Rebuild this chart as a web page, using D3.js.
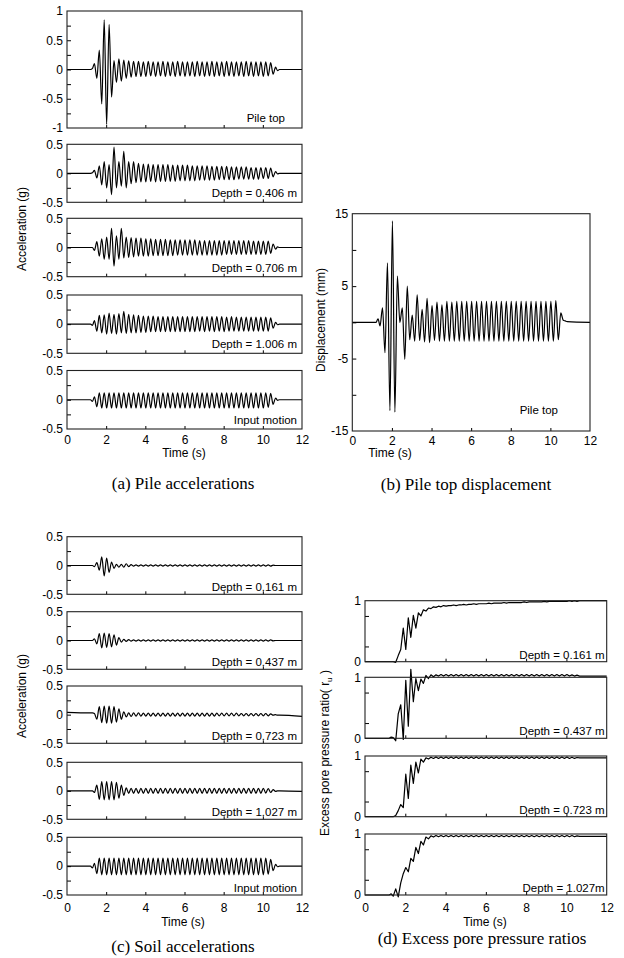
<!DOCTYPE html>
<html>
<head>
<meta charset="utf-8">
<script src="https://cdn.jsdelivr.net/npm/d3@7.9.0/dist/d3.min.js"></script>
<style>
  body { margin: 0; background: #fff; }
  svg text { font-family: "Liberation Sans", Arial, sans-serif; font-size: 12px; fill: #000; }
  svg text.inner { font-size: 11.5px; }
  svg text.caption { font-family: "Liberation Serif", "Times New Roman", serif; font-size: 17px; }
</style>
</head>
<body>
<svg id="fig" width="624" height="958"></svg>
<script>
// time of each knot (s): quiet start, extrema of the ~4 Hz shaking, quiet end
const timeKnots = [0, 1.2, 1.3,
  1.4, 1.525, 1.65, 1.775, 1.9, 2.025, 2.15, 2.275, 2.4, 2.525,
  2.65, 2.775, 2.9, 3.025, 3.15, 3.275, 3.4, 3.525, 3.65, 3.775,
  3.9, 4.025, 4.15, 4.275, 4.4, 4.525, 4.65, 4.775, 4.9, 5.025,
  5.15, 5.275, 5.4, 5.525, 5.65, 5.775, 5.9, 6.025, 6.15, 6.275,
  6.4, 6.525, 6.65, 6.775, 6.9, 7.025, 7.15, 7.275, 7.4, 7.525,
  7.65, 7.775, 7.9, 8.025, 8.15, 8.275, 8.4, 8.525, 8.65, 8.775,
  8.9, 9.025, 9.15, 9.275, 9.4, 9.525, 9.65, 9.775, 9.9, 10.025,
  10.15, 10.275, 10.4, 10.525, 10.65,
  10.75, 10.85, 12];

const timeTicks = [0, 2, 4, 6, 8, 10, 12];

// (a) pile accelerations (g)
const pileTopAcc = [0, 0, 0.02,
  0.1, -0.15, 0.33, -0.59, 0.85, -0.94, 0.77, -0.47, 0.15, -0.22,
  0.18, -0.2, 0.16, -0.15, 0.15, -0.13, 0.14, -0.12, 0.14, -0.12,
  0.13, -0.12, 0.14, -0.11, 0.13, -0.12, 0.13, -0.11, 0.14, -0.12,
  0.13, -0.11, 0.13, -0.12, 0.14, -0.11, 0.13, -0.12, 0.13, -0.11,
  0.13, -0.12, 0.14, -0.11, 0.13, -0.12, 0.13, -0.11, 0.14, -0.12,
  0.13, -0.11, 0.13, -0.12, 0.14, -0.11, 0.13, -0.12, 0.13, -0.11,
  0.13, -0.12, 0.14, -0.11, 0.13, -0.12, 0.13, -0.11, 0.13, -0.12,
  0.13, -0.11, 0.12, -0.08, 0.04,
  -0.02, 0, 0];
const pile0406Acc = [0, 0, 0.01,
  0.05, -0.08, 0.13, -0.2, 0.2, -0.25, 0.15, -0.37, 0.45, -0.25,
  0.2, -0.22, 0.38, -0.25, 0.2, -0.18, 0.2, -0.16, 0.17, -0.15,
  0.16, -0.15, 0.16, -0.14, 0.15, -0.15, 0.15, -0.14, 0.15, -0.14,
  0.15, -0.14, 0.14, -0.14, 0.14, -0.13, 0.14, -0.13, 0.14, -0.13,
  0.13, -0.13, 0.13, -0.12, 0.13, -0.12, 0.13, -0.12, 0.12, -0.12,
  0.12, -0.11, 0.12, -0.11, 0.12, -0.11, 0.11, -0.11, 0.11, -0.1,
  0.11, -0.1, 0.11, -0.1, 0.1, -0.1, 0.1, -0.1, 0.1, -0.09,
  0.1, -0.09, 0.09, -0.06, 0.03,
  -0.01, 0, 0];
const pile0706Acc = [0, 0, 0,
  -0.05, 0.1, -0.15, 0.15, -0.2, 0.18, -0.2, 0.33, -0.32, 0.2,
  -0.2, 0.33, -0.18, 0.18, -0.17, 0.17, -0.16, 0.16, -0.15, 0.16,
  -0.15, 0.15, -0.15, 0.15, -0.14, 0.14, -0.14, 0.14, -0.14, 0.14,
  -0.14, 0.13, -0.14, 0.13, -0.13, 0.13, -0.13, 0.13, -0.13, 0.13,
  -0.13, 0.13, -0.13, 0.12, -0.13, 0.12, -0.13, 0.12, -0.13, 0.12,
  -0.13, 0.12, -0.13, 0.12, -0.12, 0.12, -0.12, 0.12, -0.12, 0.12,
  -0.12, 0.12, -0.12, 0.12, -0.12, 0.11, -0.12, 0.11, -0.12, 0.11,
  -0.12, 0.11, -0.1, 0.06, -0.03,
  0.01, 0, 0];
const pile1006Acc = [0, 0, -0.02,
  0.06, -0.12, 0.15, -0.15, 0.16, -0.17, 0.19, -0.16, 0.17, -0.17,
  0.18, -0.15, 0.22, -0.16, 0.17, -0.15, 0.16, -0.15, 0.15, -0.14,
  0.14, -0.14, 0.14, -0.13, 0.14, -0.13, 0.13, -0.13, 0.13, -0.13,
  0.13, -0.13, 0.13, -0.13, 0.13, -0.13, 0.13, -0.13, 0.13, -0.13,
  0.13, -0.13, 0.13, -0.12, 0.13, -0.13, 0.13, -0.12, 0.13, -0.13,
  0.13, -0.12, 0.13, -0.13, 0.12, -0.12, 0.13, -0.12, 0.12, -0.12,
  0.12, -0.12, 0.12, -0.12, 0.12, -0.12, 0.12, -0.12, 0.12, -0.12,
  0.12, -0.12, 0.11, -0.07, 0.03,
  -0.01, 0, 0];
const pileInputAcc = [0, 0, -0.03,
  0.05, -0.12, 0.12, -0.14, 0.12, -0.14, 0.12, -0.14, 0.12, -0.14,
  0.12, -0.14, 0.12, -0.14, 0.12, -0.14, 0.12, -0.14, 0.12, -0.14,
  0.12, -0.14, 0.12, -0.14, 0.12, -0.14, 0.12, -0.14, 0.12, -0.14,
  0.12, -0.14, 0.12, -0.14, 0.12, -0.14, 0.12, -0.14, 0.12, -0.14,
  0.12, -0.14, 0.12, -0.14, 0.12, -0.14, 0.12, -0.14, 0.12, -0.14,
  0.12, -0.14, 0.12, -0.14, 0.12, -0.14, 0.12, -0.14, 0.12, -0.14,
  0.12, -0.14, 0.12, -0.14, 0.12, -0.14, 0.12, -0.14, 0.12, -0.14,
  0.12, -0.13, 0.11, -0.08, 0.03,
  -0.01, 0, 0];

// (b) pile top displacement (mm)
const pileTopDisp = [0, 0, 0.5,
  -0.5, 2, -4.2, 8.2, -12.2, 14, -12.4, 6.4, 0, 2,
  -5.1, 5, -2.4, 1.0, -2.6, 3.8, -2.5, 1.8, -2.7, 3.3,
  -2.8, 2.3, -2.5, 2.8, -2.6, 2.4, -2.6, 2.9, -2.6, 2.8,
  -2.6, 2.9, -2.6, 2.9, -2.6, 2.9, -2.6, 2.9, -2.6, 2.9,
  -2.6, 2.9, -2.6, 2.9, -2.6, 2.9, -2.6, 2.9, -2.6, 2.9,
  -2.6, 2.9, -2.6, 2.9, -2.6, 2.9, -2.6, 2.9, -2.6, 2.9,
  -2.6, 2.9, -2.6, 2.9, -2.6, 2.9, -2.6, 2.9, -2.6, 2.9,
  -2.6, 3.0, -2.4, 1.3, 0.3,
  0.2, 0.1, 0];

// (c) soil accelerations (g)
const soil0161Acc = [0, 0, 0,
  -0.02, 0.05, -0.08, 0.15, -0.18, 0.13, -0.12, 0.06, -0.05, 0.02,
  -0.03, 0.02, -0.03, 0.03, -0.02, 0.015, -0.01, 0.01, -0.01, 0.01,
  -0.01, 0.01, -0.01, 0.01, -0.01, 0.01, -0.01, 0.01, -0.01, 0.01,
  -0.01, 0.01, -0.01, 0.01, -0.01, 0.01, -0.01, 0.01, -0.01, 0.01,
  -0.01, 0.01, -0.01, 0.01, -0.01, 0.01, -0.01, 0.01, -0.01, 0.01,
  -0.01, 0.01, -0.01, 0.01, -0.01, 0.01, -0.01, 0.01, -0.01, 0.01,
  -0.01, 0.01, -0.01, 0.01, -0.01, 0.01, -0.01, 0.01, -0.01, 0.01,
  -0.01, 0.01, -0.01, 0.005, 0,
  0, 0, 0];
const soil0437Acc = [0, 0, 0,
  0.03, -0.06, 0.12, -0.13, 0.13, -0.12, 0.12, -0.11, 0.1, -0.08,
  0.05, -0.03, 0.02, -0.015, 0.015, -0.01, 0.01, -0.01, 0.01, -0.01,
  0.01, -0.01, 0.01, -0.01, 0.01, -0.01, 0.01, -0.01, 0.01, -0.01,
  0.01, -0.01, 0.01, -0.01, 0.01, -0.01, 0.01, -0.01, 0.01, -0.01,
  0.01, -0.01, 0.01, -0.01, 0.01, -0.01, 0.01, -0.01, 0.01, -0.01,
  0.01, -0.01, 0.01, -0.01, 0.01, -0.01, 0.01, -0.01, 0.01, -0.01,
  0.01, -0.01, 0.01, -0.01, 0.01, -0.01, 0.01, -0.01, 0.01, -0.01,
  0.01, -0.01, 0.01, -0.005, 0,
  0, 0, 0];
const soil0723Acc = [0.04, 0.03, 0.03,
  0.02, -0.08, 0.14, -0.14, 0.15, -0.15, 0.15, -0.15, 0.14, -0.13,
  0.1, -0.08, 0.05, -0.04, 0.03, -0.03, 0.03, -0.025, 0.03, -0.025,
  0.025, -0.025, 0.025, -0.025, 0.025, -0.025, 0.025, -0.025, 0.025, -0.025,
  0.025, -0.025, 0.025, -0.025, 0.025, -0.025, 0.025, -0.025, 0.025, -0.025,
  0.025, -0.025, 0.025, -0.025, 0.025, -0.025, 0.025, -0.025, 0.025, -0.025,
  0.025, -0.02, 0.025, -0.02, 0.025, -0.02, 0.025, -0.02, 0.025, -0.02,
  0.02, -0.02, 0.02, -0.02, 0.02, -0.02, 0.02, -0.02, 0.02, -0.02,
  0.02, -0.02, 0.015, -0.01, 0,
  -0.01, -0.01, -0.03];
const soil1027Acc = [0, 0, 0,
  -0.03, 0.1, -0.15, 0.16, -0.16, 0.16, -0.16, 0.16, -0.16, 0.15,
  -0.13, 0.1, -0.08, 0.05, -0.045, 0.045, -0.045, 0.045, -0.045, 0.045,
  -0.045, 0.045, -0.045, 0.045, -0.045, 0.045, -0.045, 0.045, -0.045, 0.045,
  -0.045, 0.045, -0.045, 0.045, -0.045, 0.045, -0.045, 0.045, -0.045, 0.045,
  -0.045, 0.045, -0.045, 0.045, -0.045, 0.045, -0.045, 0.045, -0.045, 0.045,
  -0.045, 0.045, -0.045, 0.045, -0.045, 0.045, -0.045, 0.045, -0.045, 0.045,
  -0.045, 0.045, -0.045, 0.045, -0.045, 0.045, -0.045, 0.045, -0.045, 0.045,
  -0.04, 0.04, -0.03, 0.02, -0.01,
  0, 0, -0.01];
const soilInputAcc = [0, 0, -0.03,
  0.05, -0.13, 0.14, -0.15, 0.14, -0.15, 0.14, -0.15, 0.14, -0.15,
  0.14, -0.15, 0.14, -0.15, 0.14, -0.15, 0.14, -0.15, 0.14, -0.15,
  0.14, -0.15, 0.14, -0.15, 0.14, -0.15, 0.14, -0.15, 0.14, -0.15,
  0.14, -0.15, 0.14, -0.15, 0.14, -0.15, 0.14, -0.15, 0.14, -0.15,
  0.14, -0.15, 0.14, -0.15, 0.14, -0.15, 0.14, -0.15, 0.14, -0.15,
  0.14, -0.15, 0.14, -0.15, 0.14, -0.15, 0.14, -0.15, 0.14, -0.15,
  0.14, -0.15, 0.14, -0.15, 0.14, -0.15, 0.14, -0.15, 0.14, -0.15,
  0.14, -0.14, 0.12, -0.08, 0.03,
  -0.01, 0, 0];

// (d) excess pore pressure ratios r_u
const pore0161 = [0, 0, 0,
  0, -0.01, 0.1, 0.2, 0.55, 0.2, 0.72, 0.4, 0.76, 0.55,
  0.8, 0.75, 0.85, 0.83, 0.88, 0.87, 0.9, 0.89, 0.91, 0.9,
  0.92, 0.91, 0.92, 0.92, 0.93, 0.92, 0.93, 0.93, 0.94, 0.93,
  0.94, 0.94, 0.95, 0.94, 0.95, 0.95, 0.95, 0.95, 0.96, 0.95,
  0.96, 0.96, 0.96, 0.96, 0.97, 0.96, 0.97, 0.97, 0.97, 0.97,
  0.97, 0.97, 0.98, 0.97, 0.98, 0.98, 0.98, 0.98, 0.98, 0.98,
  0.99, 0.98, 0.99, 0.99, 0.99, 0.99, 0.99, 0.99, 0.99, 0.99,
  1.0, 0.99, 1.0, 0.99, 1.0,
  1.0, 1.0, 1.0];
const pore0437 = [0, 0, 0.02,
  0.01, -0.04, 0.4, 0.55, -0.02, 0.95, 0.2, 1.13, 0.6, 0.98,
  0.78, 0.97, 0.9, 1.03, 0.98, 1.04, 1.01, 1.04, 1.02, 1.045,
  1.02, 1.045, 1.02, 1.045, 1.02, 1.045, 1.02, 1.045, 1.02, 1.045,
  1.02, 1.045, 1.02, 1.045, 1.02, 1.045, 1.02, 1.045, 1.02, 1.045,
  1.02, 1.045, 1.02, 1.045, 1.02, 1.045, 1.02, 1.045, 1.02, 1.045,
  1.02, 1.045, 1.02, 1.045, 1.02, 1.045, 1.02, 1.045, 1.02, 1.045,
  1.02, 1.045, 1.02, 1.045, 1.02, 1.045, 1.02, 1.045, 1.02, 1.045,
  1.02, 1.04, 1.02, 1.035, 1.02,
  1.02, 1.02, 1.02];
const pore0723 = [0, 0, 0,
  0, 0.02, 0.1, 0.2, 0.15, 0.7, 0.3, 0.85, 0.55, 0.9,
  0.72, 0.95, 0.9, 0.97, 0.95, 0.98, 0.96, 0.985, 0.96, 0.985,
  0.96, 0.985, 0.96, 0.985, 0.96, 0.985, 0.96, 0.985, 0.96, 0.985,
  0.96, 0.985, 0.96, 0.985, 0.96, 0.985, 0.96, 0.985, 0.96, 0.985,
  0.96, 0.985, 0.96, 0.985, 0.96, 0.985, 0.96, 0.985, 0.96, 0.985,
  0.96, 0.985, 0.96, 0.985, 0.96, 0.985, 0.96, 0.985, 0.96, 0.985,
  0.96, 0.985, 0.96, 0.985, 0.96, 0.985, 0.96, 0.985, 0.96, 0.985,
  0.96, 0.98, 0.96, 0.975, 0.97,
  0.97, 0.97, 0.97];
const pore1027 = [0, 0, 0.02,
  -0.02, 0.1, -0.03, 0.2, 0.35, 0.45, 0.38, 0.6, 0.55, 0.78,
  0.68, 0.88, 0.82, 0.95, 0.92, 0.97, 0.95, 0.975, 0.955, 0.975,
  0.955, 0.975, 0.955, 0.975, 0.955, 0.975, 0.955, 0.975, 0.955, 0.975,
  0.955, 0.975, 0.955, 0.975, 0.955, 0.975, 0.955, 0.975, 0.955, 0.975,
  0.955, 0.975, 0.955, 0.975, 0.955, 0.975, 0.955, 0.975, 0.955, 0.975,
  0.955, 0.975, 0.955, 0.975, 0.955, 0.975, 0.955, 0.975, 0.955, 0.975,
  0.955, 0.975, 0.955, 0.975, 0.955, 0.975, 0.955, 0.975, 0.955, 0.975,
  0.955, 0.975, 0.955, 0.97, 0.96,
  0.96, 0.96, 0.96];

const pileAccLabels = ["Pile top", "Depth = 0.406 m", "Depth = 0.706 m", "Depth = 1.006 m", "Input motion"];
const soilAccLabels = ["Depth = 0.161 m", "Depth = 0.437 m", "Depth = 0.723 m", "Depth = 1.027 m", "Input motion"];
const poreLabels = ["Depth = 0.161 m", "Depth = 0.437 m", "Depth = 0.723 m", "Depth = 1.027m"];
const captions = ["(a) Pile accelerations", "(b) Pile top displacement", "(c) Soil accelerations", "(d) Excess pore pressure ratios"];

const svg = d3.select("#fig");
svg.append("rect").attr("width", 624).attr("height", 958).attr("fill", "#fff");

function drawPanel(p) {
  const x = d3.scaleLinear().domain([0, 12]).range([p.left, p.right]);
  const y = d3.scaleLinear().domain(p.domain).range([p.bottom, p.top]);
  const g = svg.append("g");

  g.append("g")
    .attr("transform", `translate(${p.left},0)`)
    .call(d3.axisLeft(y).tickValues(p.minorTicks).tickSize(-4).tickFormat(""))
    .call(a => a.select(".domain").remove());

  g.append("g")
    .attr("transform", `translate(${p.left},0)`)
    .call(d3.axisLeft(y).tickValues(p.yLabels).tickSize(0).tickPadding(4).tickFormat(d => String(d)))
    .call(a => a.select(".domain").remove());

  g.append("g")
    .attr("transform", `translate(0,${p.bottom})`)
    .call(d3.axisBottom(x).tickValues([2, 4, 6, 8, 10]).tickSize(-3).tickFormat(""))
    .call(a => a.select(".domain").remove());

  if (p.xPad !== undefined) {
    g.append("g")
      .attr("transform", `translate(0,${p.bottom})`)
      .call(d3.axisBottom(x).tickValues(timeTicks).tickSize(0).tickPadding(p.xPad).tickFormat(d => String(d)))
      .call(a => a.select(".domain").remove());
  }

  const pts = timeKnots.map((t, i) => [t, p.values[i]]).filter(d => d[1] !== undefined);
  g.append("path")
    .datum(pts)
    .attr("fill", "none")
    .attr("stroke", "#000")
    .attr("stroke-width", 1.2)
    .attr("stroke-linejoin", "round")
    .attr("d", d3.line().x(d => x(d[0])).y(d => y(d[1])).curve(p.curve || d3.curveMonotoneX));

  g.append("rect")
    .attr("x", p.left)
    .attr("y", p.top)
    .attr("width", p.right - p.left)
    .attr("height", p.bottom - p.top)
    .attr("fill", "none")
    .attr("stroke", "#222")
    .attr("stroke-width", 1.1);

  g.append("text")
    .attr("class", "inner")
    .attr("x", p.right - (p.labelRight || 4))
    .attr("y", p.bottom - (p.labelBottom || 3.5))
    .attr("text-anchor", "end")
    .text(p.label);
}

function axisTitle(text, x, y, rotate) {
  return svg.append("text")
    .attr("transform", rotate ? `translate(${x},${y}) rotate(-90)` : `translate(${x},${y})`)
    .attr("text-anchor", "middle")
    .text(text);
}

// (a) pile accelerations
const halfTicks = [-0.25, 0, 0.25];
const aBoxes = [[11, 128], [144.3, 202.3], [218.3, 276.7], [295, 353.3], [370.5, 429]];
const aSeries = [pileTopAcc, pile0406Acc, pile0706Acc, pile1006Acc, pileInputAcc];
aSeries.forEach((vals, i) => {
  drawPanel({
    left: 67, right: 302, top: aBoxes[i][0], bottom: aBoxes[i][1],
    domain: i === 0 ? [-1, 1] : [-0.5, 0.5],
    yLabels: i === 0 ? [1, 0.5, 0, -0.5, -1] : [0.5, 0, -0.5],
    minorTicks: i === 0 ? [-0.75, -0.5, -0.25, 0, 0.25, 0.5, 0.75] : halfTicks,
    values: vals, label: pileAccLabels[i],
    labelRight: i === 0 ? 17 : 5, labelBottom: i === 0 ? 6 : 5,
    xPad: i === 4 ? 6 : undefined
  });
});
axisTitle("Acceleration (g)", 26, 229, true);
axisTitle("Time (s)", 184, 457, false);

// (b) pile top displacement
drawPanel({
  left: 352.3, right: 590, top: 213.7, bottom: 431,
  domain: [-15, 15], yLabels: [15, 5, -5, -15], minorTicks: [-10, -5, 0, 5, 10],
  values: pileTopDisp, label: "Pile top", labelRight: 32, labelBottom: 17, xPad: 5
});
axisTitle("Displacement (mm)", 325, 320, true);
axisTitle("Time (s)", 390, 457, false);

// (c) soil accelerations
const cBoxes = [[536.7, 594.3], [611.7, 669.3], [686, 743.3], [762.3, 819.3], [837.3, 895]];
const cSeries = [soil0161Acc, soil0437Acc, soil0723Acc, soil1027Acc, soilInputAcc];
cSeries.forEach((vals, i) => {
  drawPanel({
    left: 67, right: 302, top: cBoxes[i][0], bottom: cBoxes[i][1],
    domain: [-0.5, 0.5], yLabels: [0.5, 0, -0.5], minorTicks: halfTicks,
    values: vals, label: soilAccLabels[i], labelRight: 5, labelBottom: 3,
    xPad: i === 4 ? 8 : undefined
  });
});
axisTitle("Acceleration (g)", 26, 696, true);
axisTitle("Time (s)", 183, 926, false);

// (d) excess pore pressure ratios
const dBoxes = [[600.7, 661.7], [677.3, 738.3], [756, 816.7], [834, 895]];
const dSeries = [pore0161, pore0437, pore0723, pore1027];
dSeries.forEach((vals, i) => {
  drawPanel({
    left: 365, right: 606.7, top: dBoxes[i][0], bottom: dBoxes[i][1],
    domain: [0, 1], yLabels: [1, 0], minorTicks: [0.25, 0.75],
    values: vals, label: poreLabels[i], labelRight: 2, labelBottom: 3,
    curve: d3.curveLinear, xPad: i === 3 ? 8 : undefined
  });
});
const poreTitle = axisTitle("Excess pore pressure ratio( r", 329, 753, true);
poreTitle.append("tspan").attr("font-size", "8px").attr("dy", 3).text("u");
poreTitle.append("tspan").attr("dy", -3).text(" )");
axisTitle("Time (s)", 485, 926, false);

// captions
svg.selectAll("text.caption")
  .data(captions)
  .join("text")
  .attr("class", "caption")
  .attr("text-anchor", "middle")
  .attr("x", (d, i) => [183, 466, 183, 482][i])
  .attr("y", (d, i) => [489, 490, 952, 944][i])
  .text(d => d);
</script>
</body>
</html>
